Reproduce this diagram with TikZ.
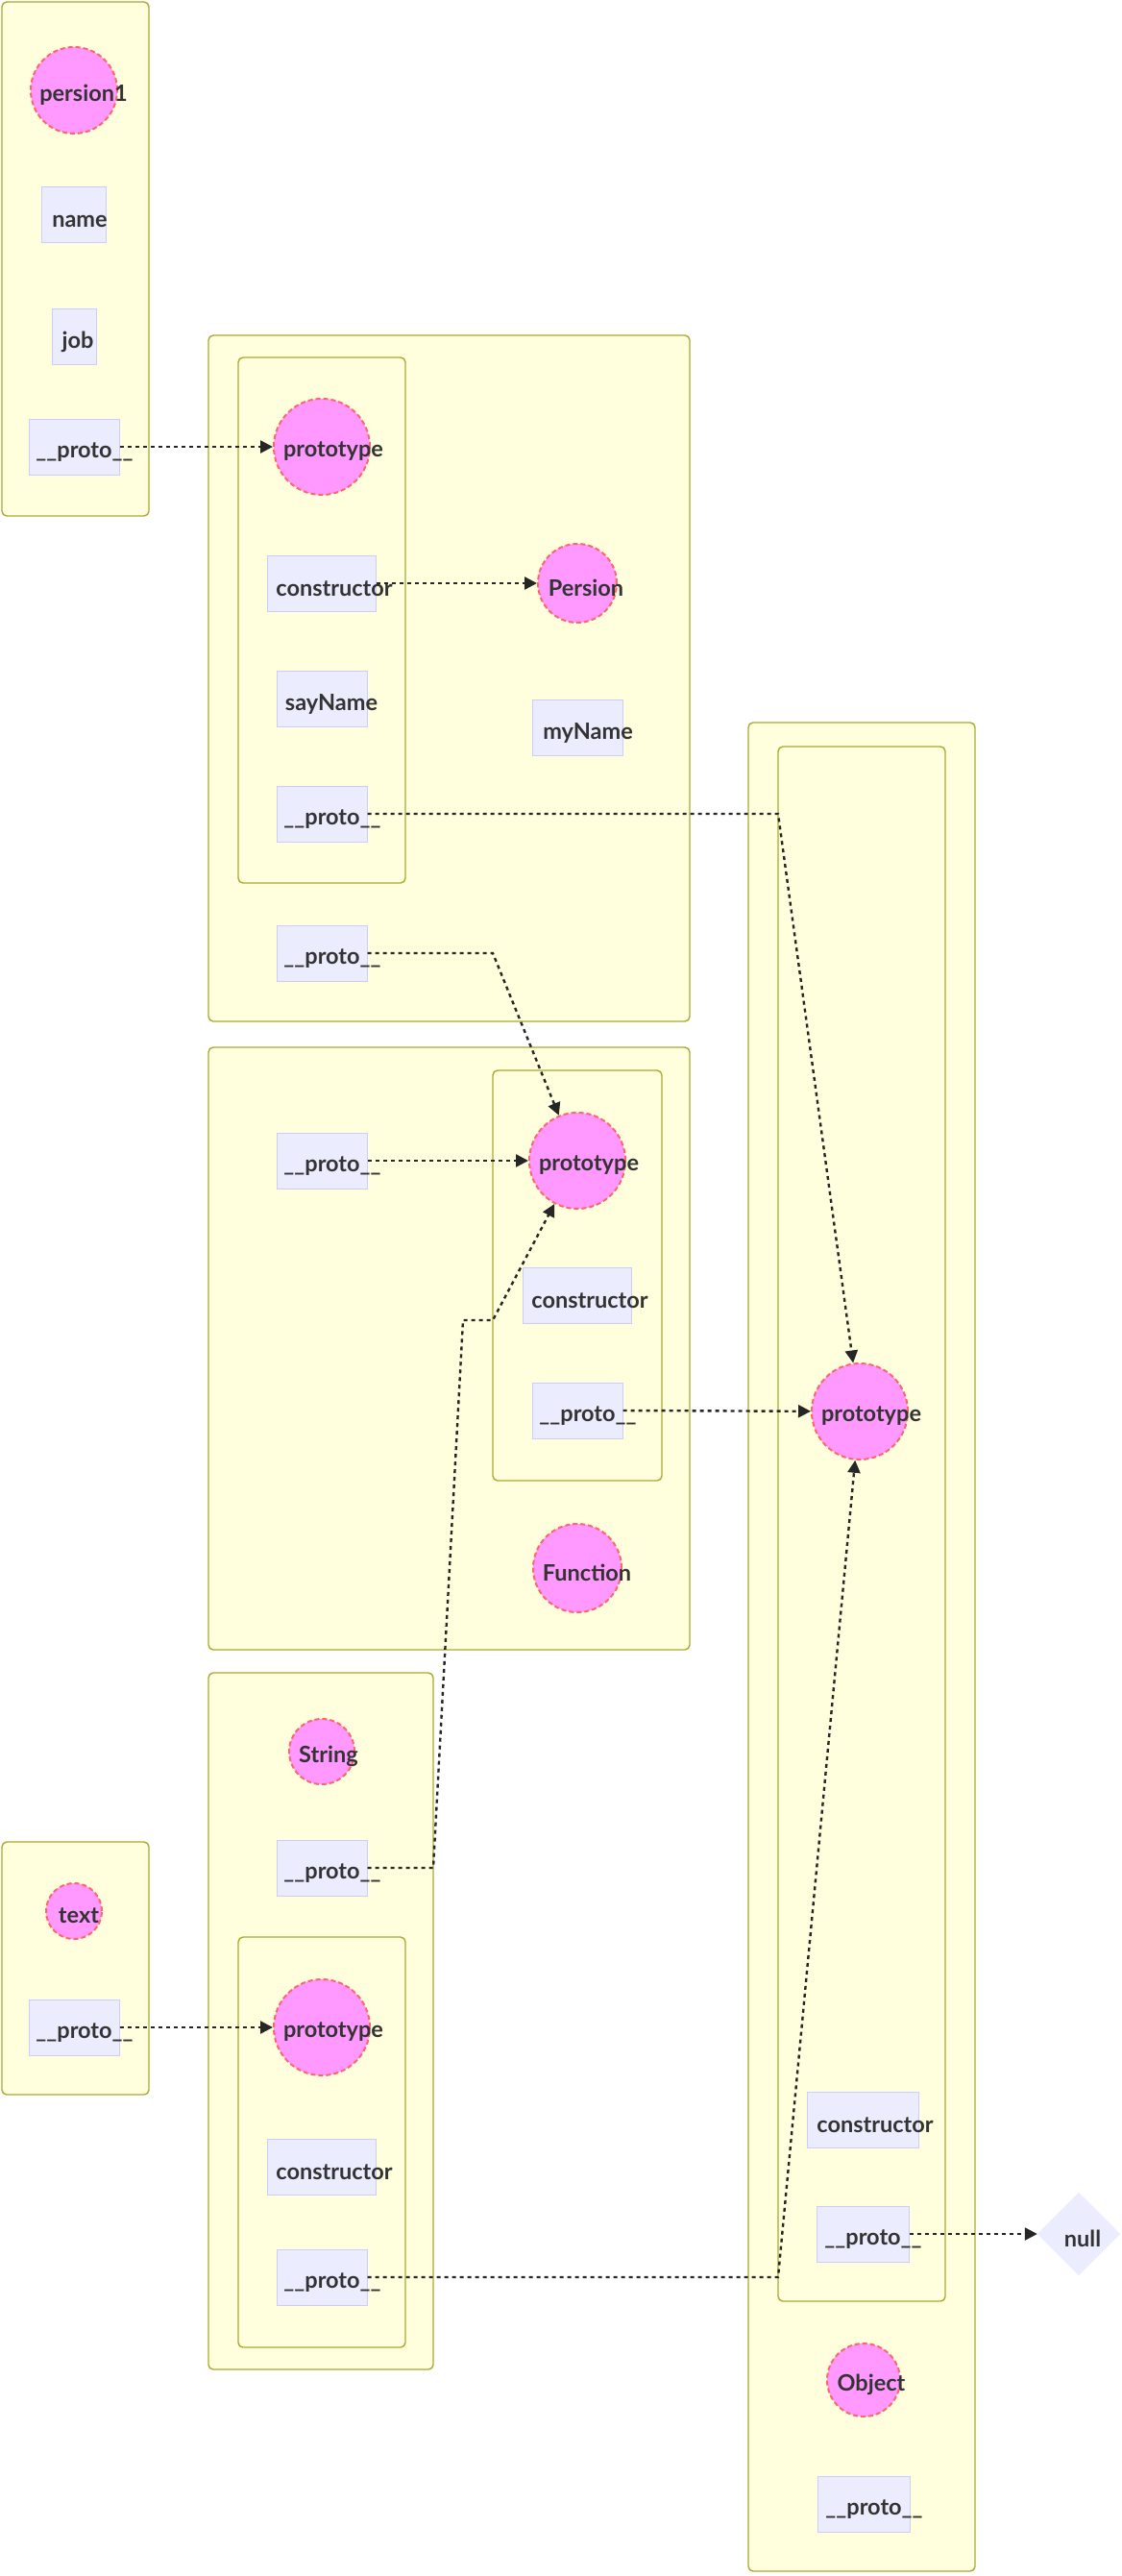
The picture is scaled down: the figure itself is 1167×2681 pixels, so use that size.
\documentclass[tikz,border=0pt]{standalone}
\usepackage{fontspec}
\setmainfont{Lato}
\usetikzlibrary{arrows.meta,shapes.geometric}
\definecolor{clfill}{HTML}{FFFFDE}
\definecolor{clline}{HTML}{AAAA33}
\definecolor{nfill}{HTML}{ECECFF}
\definecolor{nline}{HTML}{CCCCFF}
\definecolor{pfill}{HTML}{FF99FF}
\definecolor{pline}{HTML}{FF6666}
\definecolor{txt}{HTML}{333333}
\begin{document}
\begin{tikzpicture}[x=1pt,y=-1pt,
 cluster/.style={draw=clline,fill=clfill,line width=1.4pt,rounded corners=5pt},
 box/.style={draw=nline,fill=nfill,line width=1pt,minimum height=58pt,inner sep=0pt},
 circ/.style={circle,draw=pline,fill=pfill,line width=2pt,dash pattern=on 5pt off 3pt,inner sep=0pt},
 lbl/.style={font=\bfseries\fontsize{23.5}{28}\selectfont,text=txt,inner sep=0pt},
 link/.style={draw=black!85,line width=2.4pt,dash pattern=on 4pt off 4pt,-{Triangle[length=13pt,width=13pt]}}
]
\useasboundingbox (0,0) rectangle (1167,2681);
% clusters
\draw[cluster] (2,2) rectangle (155,537);
\draw[cluster] (217,349) rectangle (718,1063);
\draw[cluster] (248,372) rectangle (422,919);
\draw[cluster] (217,1090) rectangle (718,1717);
\draw[cluster] (513,1114) rectangle (689,1541);
\draw[cluster] (217,1741) rectangle (451,2466);
\draw[cluster] (248,2016) rectangle (422,2443);
\draw[cluster] (2,1917) rectangle (155,2180);
\draw[cluster] (779,752) rectangle (1015,2676);
\draw[cluster] (810,777) rectangle (984,2395);

% persion1
\node[circ,minimum size=90pt,label={[lbl,xshift=10pt,yshift=-5pt]center:persion1}] (p1) at (77,94) {};
\node[box,minimum width=67pt,label={[lbl,xshift=6pt,yshift=-6pt]center:name}] (p1name) at (77,224) {};
\node[box,minimum width=46pt,label={[lbl,xshift=4pt,yshift=-6pt]center:job}] (p1job) at (77,350) {};
\node[box,minimum width=94pt,label={[lbl,xshift=11pt,yshift=-6pt]center:\_\_proto\_\_}] (p1proto) at (77,465) {};

% Persion
\node[circ,minimum size=100pt,label={[lbl,xshift=12pt,yshift=-5pt]center:prototype}] (pp) at (335,465) {};
\node[box,minimum width=113pt,label={[lbl,xshift=13pt,yshift=-6pt]center:constructor}] (ppcons) at (335,607) {};
\node[box,minimum width=94pt,label={[lbl,xshift=10pt,yshift=-6pt]center:sayName}] (ppsay) at (335,727) {};
\node[box,minimum width=94pt,label={[lbl,xshift=11pt,yshift=-6pt]center:\_\_proto\_\_}] (ppproto) at (335,847) {};
\node[circ,minimum size=82pt,label={[lbl,xshift=9pt,yshift=-5pt]center:Persion}] (pers) at (601,607) {};
\node[box,minimum width=94pt,label={[lbl,xshift=11pt,yshift=-6pt]center:myName}] (persmy) at (601,757) {};
\node[box,minimum width=94pt,label={[lbl,xshift=11pt,yshift=-6pt]center:\_\_proto\_\_}] (persproto) at (335,992) {};

% Function
\node[circ,minimum size=100pt,label={[lbl,xshift=12pt,yshift=-5pt]center:prototype}] (fp) at (601,1208) {};
\node[box,minimum width=113pt,label={[lbl,xshift=13pt,yshift=-6pt]center:constructor}] (fpcons) at (601,1348) {};
\node[box,minimum width=94pt,label={[lbl,xshift=11pt,yshift=-6pt]center:\_\_proto\_\_}] (fpproto) at (601,1468) {};
\node[circ,minimum size=92pt,label={[lbl,xshift=10pt,yshift=-5pt]center:Function}] (func) at (601,1632) {};
\node[box,minimum width=94pt,label={[lbl,xshift=11pt,yshift=-6pt]center:\_\_proto\_\_}] (funcproto) at (335,1208) {};

% String
\node[circ,minimum size=68pt,label={[lbl,xshift=7pt,yshift=-5pt]center:String}] (str) at (335,1823) {};
\node[box,minimum width=94pt,label={[lbl,xshift=11pt,yshift=-6pt]center:\_\_proto\_\_}] (strproto) at (335,1944) {};
\node[circ,minimum size=100pt,label={[lbl,xshift=12pt,yshift=-5pt]center:prototype}] (sp) at (335,2110) {};
\node[box,minimum width=113pt,label={[lbl,xshift=13pt,yshift=-6pt]center:constructor}] (spcons) at (335,2255) {};
\node[box,minimum width=94pt,label={[lbl,xshift=11pt,yshift=-6pt]center:\_\_proto\_\_}] (spproto) at (335,2370) {};

% text
\node[circ,minimum size=58pt,label={[lbl,xshift=5pt,yshift=-5pt]center:text}] (txtn) at (77,1989) {};
\node[box,minimum width=94pt,label={[lbl,xshift=11pt,yshift=-6pt]center:\_\_proto\_\_}] (txtproto) at (77,2110) {};

% Object
\node[circ,minimum size=100pt,label={[lbl,xshift=12pt,yshift=-5pt]center:prototype}] (op) at (895,1469) {};
\node[box,minimum width=116pt,label={[lbl,xshift=13pt,yshift=-6pt]center:constructor}] (opcons) at (898,2206) {};
\node[box,minimum width=96pt,label={[lbl,xshift=11pt,yshift=-6pt]center:\_\_proto\_\_}] (opproto) at (898,2325) {};
\node[circ,minimum size=76pt,label={[lbl,xshift=8pt,yshift=-5pt]center:Object}] (obj) at (899,2477) {};
\node[box,minimum width=96pt,label={[lbl,xshift=11pt,yshift=-6pt]center:\_\_proto\_\_}] (objproto) at (899,2606) {};

% null
\node[diamond,fill=nfill,draw=nfill,minimum width=86pt,minimum height=86pt,inner sep=0pt,label={[lbl,xshift=4pt,yshift=-5pt]center:null}] (null) at (1123,2325) {};

% bend coordinates
\coordinate (b1) at (810,847);
\coordinate (b2) at (513,992);
\coordinate (b3a) at (451,1944);
\coordinate (b3b) at (482,1374);
\coordinate (b3c) at (513,1374);
\coordinate (b4) at (810,2370);

% links
\draw[link] (p1proto.east) -- (pp);
\draw[link] (ppcons.east) -- (pers);
\draw[link] (ppproto.east) -- (b1) -- (op);
\draw[link] (persproto.east) -- (b2) -- (fp);
\draw[link] (funcproto.east) -- (fp);
\draw[link] (fpproto.east) -- (op);
\draw[link] (strproto.east) -- (b3a) -- (b3b) -- (b3c) -- (fp);
\draw[link] (txtproto.east) -- (sp);
\draw[link] (spproto.east) -- (b4) -- (op);
\draw[link] (opproto.east) -- (null);
\end{tikzpicture}
\end{document}
